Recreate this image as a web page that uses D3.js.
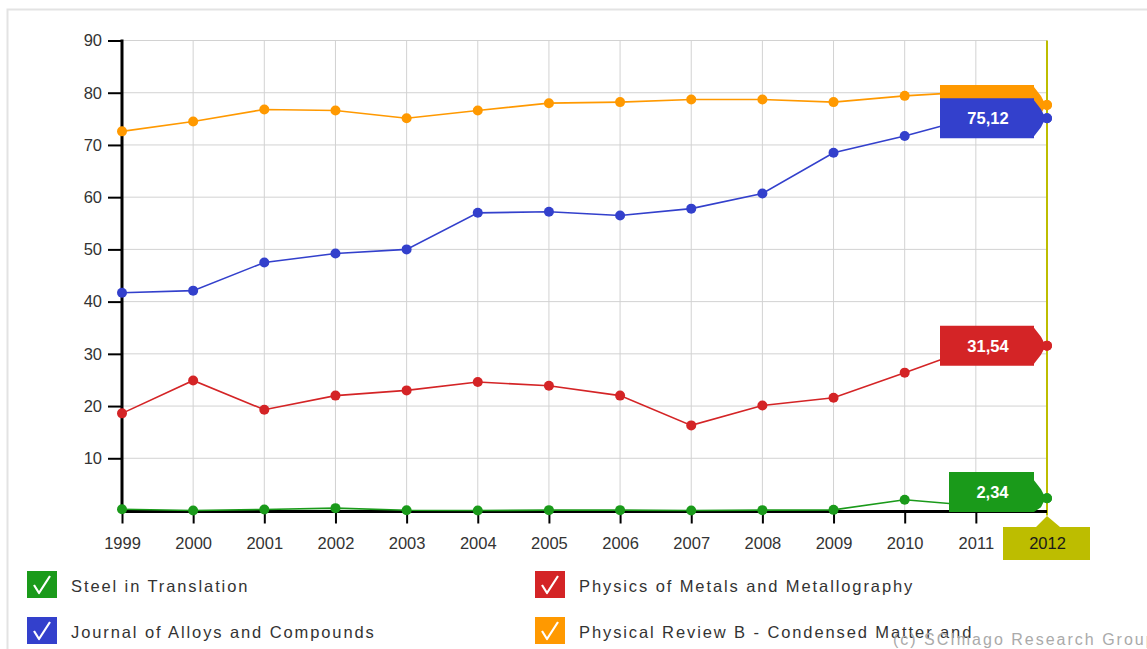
<!DOCTYPE html>
<html>
<head>
<meta charset="utf-8">
<script src="https://cdnjs.cloudflare.com/ajax/libs/d3/7.8.5/d3.min.js"></script>
<style>
  html, body { margin: 0; padding: 0; background: #fff; }
  svg { display: block; }
</style>
</head>
<body>
<svg id="chart" width="1147" height="649"></svg>
<script>
// ---- data ----
const years = [1999, 2000, 2001, 2002, 2003, 2004, 2005, 2006, 2007, 2008, 2009, 2010, 2011, 2012];
const yTicks = [10, 20, 30, 40, 50, 60, 70, 80, 90];
const seriesNames = ["Steel in Translation", "Physics of Metals and Metallography", "Journal of Alloys and Compounds", "Physical Review B - Condensed Matter and"];
const seriesColors = ["#1a9a1a", "#d42426", "#3340cc", "#ff9900"];
const steelValues = [0.25, 0.0, 0.2, 0.45, 0.05, 0.0, 0.07, 0.07, 0.0, 0.07, 0.12, 2.05, 0.9, 2.34];
const physMetValues = [18.6, 24.9, 19.3, 22.0, 23.0, 24.6, 23.9, 22.0, 16.3, 20.1, 21.6, 26.4, 31.3, 31.54];
const alloysValues = [41.7, 42.1, 47.5, 49.2, 50.0, 57.0, 57.2, 56.5, 57.8, 60.7, 68.5, 71.7, 75.4, 75.12];
const physRevBValues = [72.6, 74.5, 76.8, 76.6, 75.1, 76.6, 78.0, 78.2, 78.7, 78.7, 78.2, 79.4, 80.2, 77.65];
// the orange label text is fully hidden behind the blue label in the reference
const labelTexts = ["2,34", "31,54", "75,12", ""];
const selectedYear = 2012;
const copyright = "(c) SCImago Research Group";

const allSeries = [steelValues, physMetValues, alloysValues, physRevBValues];

const svg = d3.select("#chart");
const font = "'Liberation Sans', Arial, Helvetica, sans-serif";

// frame
svg.append("rect").attr("x", 7.5).attr("y", 9.5).attr("width", 1200).attr("height", 700)
  .attr("fill", "none").attr("stroke", "#e3e3e3").attr("stroke-width", 2);

const x = d3.scaleLinear().domain([1999, 2012]).range([122, 1047]);
const y = d3.scaleLinear().domain([0, 90]).range([510.5, 40.5]);
const axisY = 511.5;
const gridColor = "#d2d2d2";

// grid
const grid = svg.append("g");
grid.selectAll("line.h").data(yTicks).join("line")
  .attr("x1", x(1999)).attr("x2", x(2012))
  .attr("y1", d => y(d)).attr("y2", d => y(d))
  .attr("stroke", gridColor).attr("stroke-width", 1);
grid.selectAll("line.v").data(years.filter(d => d !== selectedYear && d !== 1999)).join("line")
  .attr("x1", d => x(d)).attr("x2", d => x(d))
  .attr("y1", y(90)).attr("y2", axisY)
  .attr("stroke", gridColor).attr("stroke-width", 1);

// selected year marker
const olive = "#bdbd00";
const sx = x(selectedYear);
svg.append("line").attr("x1", sx).attr("x2", sx)
  .attr("y1", y(90)).attr("y2", axisY + 4).attr("stroke", olive).attr("stroke-width", 2);
svg.append("path")
  .attr("d", `M${sx - 44},527 H${sx - 11} L${sx},516 L${sx + 13},527 H${sx + 43} V560 H${sx - 44} Z`)
  .attr("fill", olive);

// y axis
const yAxis = svg.append("g").attr("transform", `translate(${x(1999)},0)`)
  .call(d3.axisLeft(y).tickValues(yTicks).tickSize(14).tickPadding(6).tickFormat(d3.format("d")));
yAxis.select(".domain").remove();
yAxis.selectAll(".tick line").attr("stroke", "#000").attr("stroke-width", 2);
yAxis.selectAll(".tick text").attr("font-family", font).attr("font-size", 16.5).attr("fill", "#333");
svg.append("line").attr("x1", x(1999)).attr("x2", x(1999)).attr("y1", y(90) - 1).attr("y2", axisY + 1.5)
  .attr("stroke", "#000").attr("stroke-width", 3);

// x axis
const xAxis = svg.append("g").attr("transform", `translate(0,${axisY})`)
  .call(d3.axisBottom(x).tickValues(years).tickSize(12).tickPadding(14).tickFormat(d3.format("d")));
xAxis.select(".domain").remove();
xAxis.selectAll(".tick line").attr("stroke", "#000").attr("stroke-width", 2);
xAxis.selectAll(".tick text").attr("font-family", font).attr("font-size", 16.5).attr("fill", "#333");
xAxis.selectAll(".tick").filter(d => d === selectedYear).select("line").remove();
xAxis.selectAll(".tick").filter(d => d === selectedYear).select("text").attr("fill", "#1a1a1a");
svg.append("line").attr("x1", x(1999) - 1.5).attr("x2", x(2012)).attr("y1", axisY).attr("y2", axisY)
  .attr("stroke", "#000").attr("stroke-width", 3);

// lines and points
const line = d3.line().x((d, i) => x(years[i])).y(d => y(d));
[0, 1, 2, 3].forEach(si => {
  const g = svg.append("g");
  g.append("path").datum(allSeries[si]).attr("d", line)
    .attr("fill", "none").attr("stroke", seriesColors[si]).attr("stroke-width", 1.6);
  g.selectAll("circle").data(allSeries[si]).join("circle")
    .attr("cx", (d, i) => x(years[i])).attr("cy", d => y(d)).attr("r", 5)
    .attr("fill", seriesColors[si]);
});

// value labels (at selected year)
const idx = years.indexOf(selectedYear);
[3, 2, 1, 0].forEach(si => {
  const py = y(allSeries[si][idx]);
  let top = py - 20;
  if (top + 40 > axisY + 0.5) top = axisY + 0.5 - 40;
  const bottom = top + 40;
  const xr = 1034;
  const g = svg.append("g");
  const path = g.append("path").attr("fill", seriesColors[si]);
  let x0 = xr - 94;
  if (labelTexts[si]) {
    const t = g.append("text").attr("y", top + 20).attr("dy", "0.36em")
      .attr("text-anchor", "middle").attr("font-family", font).attr("font-weight", "bold")
      .attr("font-size", 16.5).attr("fill", "#fff").text(labelTexts[si]);
    const tw = t.node().getComputedTextLength();
    x0 = Math.round(xr - tw - 53);
    t.attr("x", (x0 + xr) / 2 + 1);
  }
  const d = `M${x0},${top} H${xr} V${Math.max(top, py - 18)} L${xr + 7},${py - 9} Q${xr + 9},${py - 4} ${sx},${py} ` +
            `Q${xr + 9},${py + 4} ${xr + 7},${py + 9} L${xr},${Math.min(bottom, py + 18)} V${bottom} H${x0} Z`;
  path.attr("d", d);
  g.append("circle").attr("cx", sx).attr("cy", py).attr("r", 5).attr("fill", seriesColors[si]);
});

// legend
const legendPos = [[27, 571], [27, 617], [535, 571], [535, 617]];
const legendOrder = [0, 2, 1, 3];
legendOrder.forEach((si, k) => {
  const [lx, ly] = legendPos[k];
  const g = svg.append("g").attr("transform", `translate(${lx},${ly})`);
  g.append("rect").attr("width", 30).attr("height", 27).attr("fill", seriesColors[si]);
  g.append("path").attr("d", "M7,14 L12,22 L23,5").attr("fill", "none")
    .attr("stroke", "#fff").attr("stroke-width", 2.2).attr("stroke-linejoin", "round");
  g.append("text").attr("x", 44).attr("y", 15).attr("dy", "0.36em")
    .attr("font-family", font).attr("font-size", 16.5).attr("letter-spacing", 1.9)
    .attr("fill", "#333").text(seriesNames[si]);
});

svg.append("text").attr("x", 893).attr("y", 645)
  .attr("font-family", font).attr("font-size", 16).attr("letter-spacing", 2)
  .attr("fill", "#aaa").text(copyright);
</script>
</body>
</html>
